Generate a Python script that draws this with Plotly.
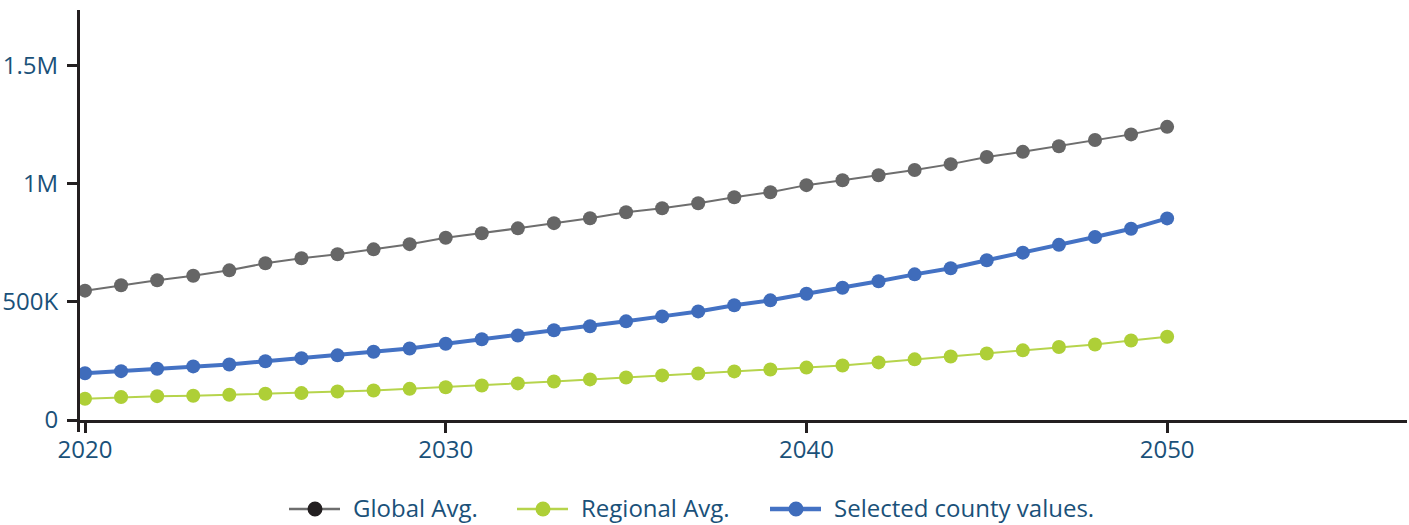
import plotly.graph_objects as go

# Annual values, 2020-2050
years = list(range(2020, 2051))

global_avg = [
    548000, 571000, 592000, 611000, 634000, 664000, 685000, 702000, 723000, 745000,
    772000, 791000, 812000, 834000, 855000, 880000, 897000, 918000, 944000, 965000,
    995000, 1016000, 1037000, 1059000, 1084000, 1114000, 1136000, 1160000, 1186000, 1210000,
    1242000,
]
regional_avg = [
    90000, 97000, 101000, 103000, 107000, 111000, 114000, 121000, 125000, 132000,
    139000, 146000, 155000, 163000, 172000, 180000, 189000, 197000, 206000, 214000,
    222000, 231000, 244000, 257000, 269000, 282000, 295000, 309000, 320000, 337000,
    353000,
]
county_values = [
    198000, 207000, 217000, 227000, 235000, 249000, 262000, 274000, 289000, 303000,
    323000, 342000, 358000, 380000, 397000, 418000, 439000, 460000, 486000, 507000,
    535000, 560000, 588000, 617000, 643000, 677000, 709000, 742000, 775000, 810000,
    854000,
]

x_ticks = [2020, 2030, 2040, 2050]
y_ticks = [0, 500000, 1000000, 1500000]
y_tick_text = ["0", "500K", "1M", "1.5M"]

series_names = ["Global Avg.", "Regional Avg.", "Selected county values."]

GRAY, GRAY_DOT = "#6e6e6e", "#666666"
GREEN, GREEN_DOT = "#b6d44c", "#aecf37"
BLUE, BLUE_DOT = "#4472c4", "#3f6cbb"
TEXT = "#1a5179"
AXIS = "#231f20"
FONT = "Open Sans"

# Plot-area geometry (px)
M_L, M_R, M_T, M_B = 80, 2, 10, 105
W, H = 1409, 525
PW, PH = W - M_L - M_R, H - M_T - M_B

fig = go.Figure()

series = [
    (series_names[0], global_avg, GRAY, GRAY_DOT, AXIS, 2),
    (series_names[1], regional_avg, GREEN, GREEN_DOT, GREEN_DOT, 2),
    (series_names[2], county_values, BLUE, BLUE_DOT, BLUE_DOT, 4),
]

for name, vals, lc, mc, _, lw in series:
    fig.add_trace(go.Scatter(
        x=years, y=vals, mode="lines+markers", name=name,
        line=dict(color=lc, width=lw),
        marker=dict(color=mc, size=14),
        showlegend=False,
    ))

# Legend row below the axis: line swatch with a dot, then the label
legend_left_px = [289, 517, 770]
legend_y_px = 509
ly = (M_T + PH - legend_y_px) / PH
for (name, _, lc, _, dot, lw), left in zip(series, legend_left_px):
    lx = (left - M_L) / PW
    fig.add_shape(
        type="line", xref="paper", yref="paper",
        xsizemode="pixel", ysizemode="pixel", xanchor=lx, yanchor=ly,
        x0=0, x1=51, y0=0, y1=0,
        line=dict(color=lc, width=lw + 0.5),
    )
    fig.add_shape(
        type="circle", xref="paper", yref="paper",
        xsizemode="pixel", ysizemode="pixel", xanchor=lx, yanchor=ly,
        x0=18.5, x1=33.5, y0=-7.5, y1=7.5,
        fillcolor=dot, line=dict(width=0),
    )
    fig.add_annotation(
        text=name, xref="paper", yref="paper", x=lx, y=ly,
        xshift=62, yshift=2, xanchor="left", yanchor="middle",
        showarrow=False, font=dict(family=FONT, size=24, color=TEXT),
    )

fig.update_layout(
    width=W, height=H,
    margin=dict(l=M_L, r=M_R, t=M_T, b=M_B),
    paper_bgcolor="white", plot_bgcolor="white",
    font=dict(family=FONT, size=24, color=TEXT),
    showlegend=False,
    xaxis=dict(
        range=[2019.861, 2056.65],
        tickvals=x_ticks, ticktext=[str(v) for v in x_ticks],
        showgrid=False, zeroline=False,
        showline=True, linecolor=AXIS, linewidth=3,
        ticks="outside", ticklen=10, tickwidth=3, tickcolor=AXIS,
        ticklabelstandoff=-4,
        tickfont=dict(family=FONT, size=24, color=TEXT),
    ),
    yaxis=dict(
        range=[0, 1737000],
        tickvals=y_ticks, ticktext=y_tick_text,
        showgrid=False, zeroline=False,
        showline=True, linecolor=AXIS, linewidth=3,
        ticks="outside", ticklen=10, tickwidth=3, tickcolor=AXIS,
        ticklabelstandoff=4,
        tickfont=dict(family=FONT, size=24, color=TEXT),
    ),
)

# Short downward overhang of the y axis below the x axis
fig.add_shape(
    type="line", xref="paper", yref="paper",
    xsizemode="pixel", ysizemode="pixel", xanchor=0, yanchor=0,
    x0=-1.5, x1=-1.5, y0=0, y1=-12,
    line=dict(color=AXIS, width=3),
)

fig.write_html("out.html")
